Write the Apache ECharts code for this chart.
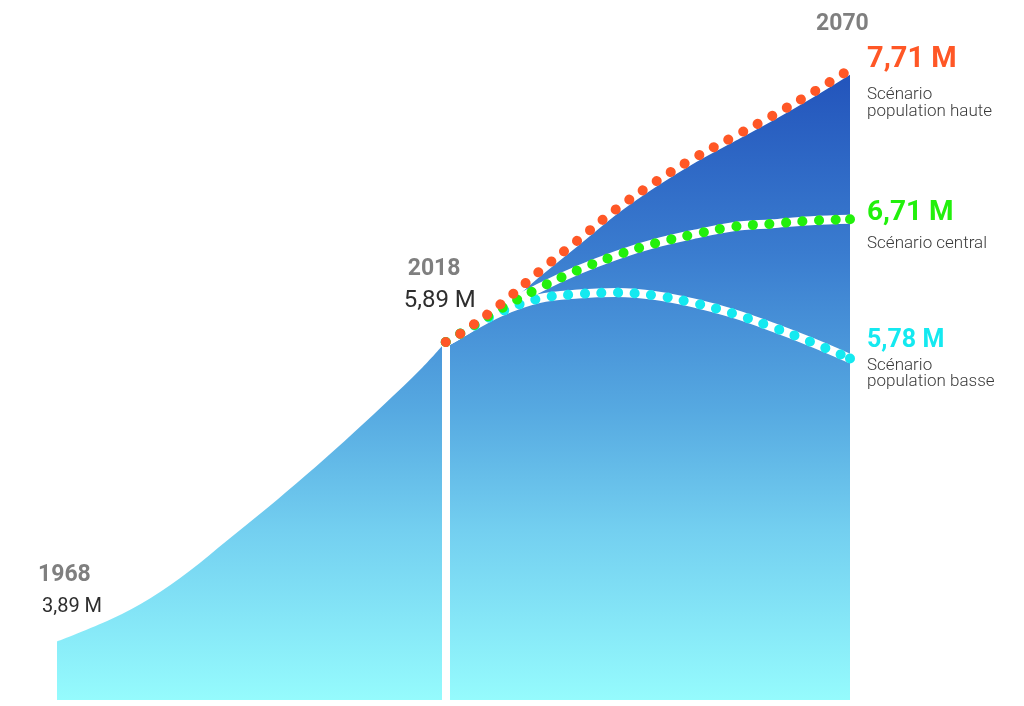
<!DOCTYPE html>
<html>
<head>
<meta charset="utf-8">
<script src="https://cdn.jsdelivr.net/npm/echarts@6/dist/echarts.min.js"></script>
<style>
html,body{margin:0;padding:0;background:#fff;}
#chart{width:1024px;height:706px;}
</style>
</head>
<body>
<div id="chart"></div>
<script>
// Historical population (millions)
const histYears  = [1968, 1975, 1980, 1985, 1990, 1995, 2000, 2005, 2010, 2015, 2018];
const histValues = [3.89, 4.04, 4.18, 4.36, 4.57, 4.78, 5.00, 5.23, 5.47, 5.72, 5.89];
// Projections
const projYears   = [2018, 2020, 2025, 2030, 2035, 2040, 2045, 2050, 2055, 2060, 2065, 2070];
const highValues  = [5.89, 5.95, 6.14, 6.36, 6.57, 6.78, 6.96, 7.12, 7.26, 7.40, 7.55, 7.71];
const centralValues = [5.89, 5.95, 6.11, 6.25, 6.37, 6.47, 6.55, 6.61, 6.66, 6.68, 6.70, 6.71];
const lowValues   = [5.89, 5.95, 6.09, 6.18, 6.21, 6.22, 6.20, 6.15, 6.08, 5.99, 5.89, 5.78];
const labelTexts = {
  y1968: '1968', v1968: '3,89 M',
  y2018: '2018', v2018: '5,89 M',
  y2070: '2070',
  high: '7,71 M', highSub: ['Scénario', 'population haute'],
  central: '6,71 M', centralSub: ['Scénario central'],
  low: '5,78 M', lowSub: ['Scénario', 'population basse']
};

const pair = (xs, ys) => xs.map((x, i) => [x, ys[i]]);
// same points, optionally with a round marker on the last one (end dot of the dotted line)
const pairEnd = (xs, ys, c, endDot) => xs.map((x, i) => (endDot && i === xs.length - 1)
  ? {value: [x, ys[i]], symbol: 'circle', symbolSize: 10, itemStyle: {color: c, borderWidth: 0}}
  : [x, ys[i]]);

const gradient = {
  type: 'linear', x: 0, y: 70, x2: 0, y2: 700, global: true,
  colorStops: [
    {offset: 0, color: '#2253bb'},
    {offset: 0.29, color: '#3a7ccf'},
    {offset: 0.54, color: '#56a9e1'},
    {offset: 0.73, color: '#73cff0'},
    {offset: 1, color: '#95fbfd'}
  ]
};

const ORANGE = '#ff5726', GREEN = '#22f00c', CYAN = '#14e9f0';
const dotStyle = (c) => ({color: c, width: 10, type: [0.1, 16.5], cap: 'round'});
const bandStyle = {color: '#ffffff', width: 9, cap: 'round'};
const SM = 0.35;
const line = (d, extra) => Object.assign({type: 'line', data: d, smooth: SM, symbol: 'none'}, extra);
const dots = (ys, c, z, endDot) => ({type: 'line', data: pairEnd(projYears, ys, c, endDot), smooth: SM,
  symbol: 'none', showSymbol: true, showAllSymbol: true, lineStyle: dotStyle(c), z: z});

const chart = echarts.init(document.getElementById('chart'), null, {renderer: 'canvas'});
const option = {
  animation: false,
  backgroundColor: '#ffffff',
  grid: {left: 57, right: 174, top: 26, bottom: 6, containLabel: false},
  xAxis: {type: 'value', min: 1968, max: 2070, show: false},
  yAxis: {type: 'value', min: 3.5, max: 8, show: false},
  series: [
    line(pair(histYears, histValues), {lineStyle: {width: 0}, areaStyle: {color: gradient, opacity: 1}, z: 1}),
    line(pair(projYears, highValues), {lineStyle: {width: 0}, areaStyle: {color: gradient, opacity: 1}, z: 1,
     markLine: {silent: true, symbol: 'none', label: {show: false},
       lineStyle: {color: '#ffffff', width: 8, type: 'solid'},
       data: [[{coord: [2018, 3.5]}, {coord: [2018, 5.89]}]]}}),
    // white bands
    line(pair(projYears, lowValues), {lineStyle: bandStyle, z: 3}),
    line(pair(projYears, centralValues), {lineStyle: bandStyle, z: 3}),
    line(pair(projYears, highValues), {lineStyle: bandStyle, z: 3}),
    // dots
    dots(lowValues, CYAN, 4, true),
    dots(centralValues, GREEN, 5, true),
    dots(highValues, ORANGE, 6, false)
  ]
};
chart.setOption(option);

const px = (x, y) => chart.convertToPixel({gridIndex: 0}, [x, y]);
const T = (text, p, dx, yAbs, font, fill) => ({
  type: 'text', silent: true, z: 10,
  style: {text: text, x: p[0] + dx, y: yAbs, font: font, fill: fill, align: 'left', verticalAlign: 'middle'}
});
const pS = px(1968, histValues[0]);
const pM = px(2018, histValues[histValues.length - 1]);
const pH = px(2070, highValues[highValues.length - 1]);
const pC = px(2070, centralValues[centralValues.length - 1]);
const pL = px(2070, lowValues[lowValues.length - 1]);
const BOLD_GRAY = 'bold 23px Roboto', GRAY = '#7f7f7f';
const SUB = '300 17px Roboto', SUBC = '#3a3a3a';
const g = [
  T(labelTexts.y1968, pS, -19, pS[1] - 66, BOLD_GRAY, GRAY),
  T(labelTexts.v1968, pS, -15, pS[1] - 35, '20px Roboto', '#2e2e2e'),
  T(labelTexts.y2018, pM, -38, pM[1] - 73, BOLD_GRAY, GRAY),
  T(labelTexts.v2018, pM, -42, pM[1] - 41, '24px Roboto', '#2e2e2e'),
  T(labelTexts.y2070, pH, -34, pH[1] - 45, BOLD_GRAY, GRAY),
  T(labelTexts.high, pH, 17, pH[1] - 10, 'bold 29px Roboto', ORANGE),
  T(labelTexts.highSub[0], pH, 17, pH[1] + 25, SUB, SUBC),
  T(labelTexts.highSub[1], pH, 17, pH[1] + 42, SUB, SUBC),
  T(labelTexts.central, pC, 17, pC[1] - 6, 'bold 28px Roboto', GREEN),
  T(labelTexts.centralSub[0], pC, 17, pC[1] + 25, SUB, SUBC),
  T(labelTexts.low, pL, 17, pL[1] - 18, 'bold 25px Roboto', CYAN),
  T(labelTexts.lowSub[0], pL, 17, pL[1] + 7, SUB, SUBC),
  T(labelTexts.lowSub[1], pL, 17, pL[1] + 23, SUB, SUBC)
];
chart.setOption({graphic: {elements: g}});
</script>
</body>
</html>
